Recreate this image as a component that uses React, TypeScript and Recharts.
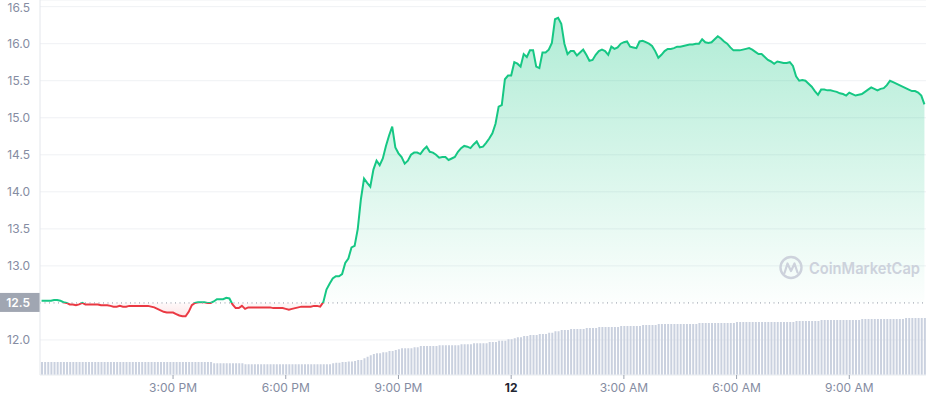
import React from "react";
import {
  ComposedChart,
  Area,
  Bar,
  XAxis,
  YAxis,
  CartesianGrid,
  ReferenceLine,
} from "recharts";

// price, one point every 5 minutes (11:30 AM -> 11:00 AM next day)
const PRICE = [
  12.53, 12.53, 12.53, 12.53, 12.54, 12.54, 12.53, 12.51, 12.5, 12.48,
  12.48, 12.47, 12.48, 12.5, 12.48, 12.48, 12.48, 12.48, 12.48, 12.47,
  12.47, 12.47, 12.46, 12.45, 12.45, 12.46, 12.45, 12.45, 12.46, 12.46,
  12.46, 12.46, 12.46, 12.46, 12.46, 12.45, 12.44, 12.42, 12.4, 12.38,
  12.37, 12.37, 12.37, 12.35, 12.33, 12.32, 12.32, 12.38, 12.47, 12.5,
  12.51, 12.51, 12.51, 12.5, 12.5, 12.52, 12.55, 12.55, 12.55, 12.57,
  12.56, 12.48, 12.43, 12.43, 12.46, 12.42, 12.44, 12.44, 12.44, 12.44,
  12.44, 12.44, 12.44, 12.44, 12.43, 12.43, 12.43, 12.43, 12.42, 12.41,
  12.42, 12.43, 12.44, 12.45, 12.45, 12.45, 12.45, 12.46, 12.46, 12.45,
  12.51, 12.68, 12.76, 12.83, 12.86, 12.86, 12.89, 13.04, 13.1, 13.25,
  13.27, 13.5, 13.9, 14.18, 14.12, 14.07, 14.3, 14.42, 14.36, 14.45,
  14.62, 14.76, 14.88, 14.6, 14.52, 14.47, 14.38, 14.42, 14.5, 14.53,
  14.53, 14.51, 14.57, 14.61, 14.54, 14.53, 14.5, 14.46, 14.47, 14.47,
  14.43, 14.45, 14.47, 14.54, 14.59, 14.62, 14.61, 14.59, 14.64, 14.68,
  14.6, 14.61, 14.66, 14.72, 14.79, 14.92, 15.15, 15.17, 15.52, 15.57,
  15.57, 15.75, 15.73, 15.69, 15.86, 15.82, 15.91, 15.91, 15.69, 15.67,
  15.88, 15.88, 15.92, 16.01, 16.33, 16.35, 16.27, 16.0, 15.86, 15.9,
  15.9, 15.84, 15.88, 15.92, 15.85, 15.77, 15.78, 15.85, 15.9, 15.92,
  15.9, 15.85, 15.96, 15.93, 15.95, 16.0, 16.02, 16.03, 15.96, 15.95,
  15.94, 16.03, 16.04, 16.02, 16.0, 15.97, 15.9, 15.81, 15.85, 15.9,
  15.93, 15.93, 15.94, 15.96, 15.96, 15.97, 15.98, 15.99, 15.99, 16.0,
  16.0, 16.06, 16.02, 16.01, 16.02, 16.06, 16.1, 16.07, 16.03, 16.0,
  15.95, 15.91, 15.91, 15.91, 15.92, 15.93, 15.94, 15.92, 15.89, 15.86,
  15.86, 15.82, 15.78, 15.76, 15.73, 15.76, 15.75, 15.74, 15.74, 15.75,
  15.7, 15.56, 15.5, 15.51, 15.5, 15.46, 15.42, 15.36, 15.31, 15.38,
  15.38, 15.37, 15.37, 15.36, 15.35, 15.33, 15.32, 15.3, 15.34, 15.32,
  15.3, 15.31, 15.32, 15.35, 15.38, 15.41, 15.39, 15.37, 15.39, 15.4,
  15.44, 15.5, 15.48, 15.46, 15.44, 15.42, 15.4, 15.38, 15.36, 15.36,
  15.34, 15.3, 15.18,
];

// 24h volume (millions), same 5 minute steps
const VOLUME = [
  52, 52, 52, 52, 52, 52, 52, 52, 52, 52,
  52, 52, 52, 52, 52, 52, 52, 52, 52, 52,
  52, 52, 52, 52, 52, 52, 52, 52, 52, 52,
  52, 52, 52, 52, 52, 52, 52, 52, 52, 52,
  52, 52, 52, 52, 52, 52, 52, 52, 52, 52,
  52, 52, 52, 52, 52, 47, 47, 47, 47, 47,
  47, 47, 47, 47, 47, 43, 43, 43, 43, 43,
  43, 43, 43, 43, 43, 43, 43, 43, 43, 43,
  43, 43, 43, 43, 43, 43, 43, 43, 43, 43,
  43, 43, 43, 47, 49, 49, 52, 52, 54, 54,
  56, 60, 60, 67, 73, 79, 84, 87, 87, 91,
  91, 96, 96, 100, 103, 107, 107, 107, 107, 111,
  111, 116, 116, 116, 116, 116, 116, 119, 119, 119,
  119, 119, 119, 119, 123, 123, 123, 123, 127, 127,
  127, 127, 127, 132, 132, 132, 137, 137, 137, 143,
  143, 147, 151, 151, 156, 156, 160, 160, 160, 164,
  164, 164, 169, 169, 175, 175, 180, 180, 180, 184,
  184, 184, 184, 184, 188, 188, 188, 188, 192, 192,
  192, 192, 192, 192, 192, 196, 196, 196, 196, 196,
  196, 196, 200, 200, 200, 200, 200, 204, 204, 204,
  204, 204, 204, 204, 204, 204, 204, 204, 204, 204,
  208, 208, 208, 208, 208, 208, 208, 208, 208, 208,
  208, 208, 212, 212, 212, 212, 212, 212, 212, 212,
  212, 212, 212, 212, 212, 212, 212, 212, 212, 212,
  212, 216, 216, 216, 216, 216, 216, 216, 216, 220,
  220, 220, 220, 220, 220, 220, 220, 220, 220, 220,
  220, 220, 224, 224, 224, 224, 224, 224, 224, 224,
  224, 224, 224, 224, 224, 224, 228, 228, 228, 228,
  228, 228, 228,
];

const OPEN_PRICE = 12.5;
const PRICE_TICKS = [12, 13, 13.5, 14, 14.5, 15, 15.5, 16, 16.5];
const TIME_TICKS = [42, 78, 114, 150, 186, 222, 258];
const TIME_LABELS = ["3:00 PM", "6:00 PM", "9:00 PM", "12", "3:00 AM", "6:00 AM", "9:00 AM"];

const GREEN = "#16c784";
const RED = "#ea3943";
const TEXT = "#858ca2";
const FONT = "Inter, sans-serif";

const data = PRICE.map((price, idx) => ({ idx, price, volume: VOLUME[idx] }));

const maxP = Math.max(...PRICE);
const minP = Math.min(...PRICE);
const split = (maxP - OPEN_PRICE) / (maxP - minP);

const TimeTick = ({ x, y, payload }: any) => {
  const label = TIME_LABELS[TIME_TICKS.indexOf(payload.value)];
  const bold = label === "12";
  return (
    <text
      x={x}
      y={y}
      dy="0.71em"
      textAnchor="middle"
      fontSize={12}
      fontFamily={FONT}
      fontWeight={bold ? 700 : 400}
      fill={bold ? "#222531" : TEXT}
    >
      {label}
    </text>
  );
};

const OpenLabel = (props: any) => {
  const { x, y } = props.viewBox;
  return (
    <g>
      <rect x={x - 40} y={y - 10} width={40} height={19} fill="#a0a6b2" />
      <text
        x={x - 10}
        y={y}
        dy="0.35em"
        textAnchor="end"
        fontSize={12}
        fontWeight={600}
        fontFamily={FONT}
        fill="#ffffff"
      >
        {OPEN_PRICE.toFixed(1)}
      </text>
    </g>
  );
};

export default function App() {
  return (
    <div style={{ position: "fixed", left: 0, top: 0, width: 929, height: 400, background: "#fff" }}>
      <ComposedChart
        width={929}
        height={400}
        data={data}
        margin={{ top: 0, right: 3, bottom: 0, left: 0 }}
      >
        <defs>
          <linearGradient id="priceStroke" x1="0" y1="0" x2="0" y2="1">
            <stop offset={split} stopColor={GREEN} />
            <stop offset={split} stopColor={RED} />
          </linearGradient>
          <linearGradient id="priceFill" x1="0" y1="0" x2="0" y2="1">
            <stop offset={0} stopColor={GREEN} stopOpacity={0.34} />
            <stop offset={split} stopColor={GREEN} stopOpacity={0.01} />
            <stop offset={split} stopColor={RED} stopOpacity={0.03} />
            <stop offset={1} stopColor={RED} stopOpacity={0.12} />
          </linearGradient>
        </defs>
        <CartesianGrid vertical={false} stroke="#eff1f4" />
        <XAxis
          dataKey="idx"
          ticks={TIME_TICKS}
          interval={0}
          height={25}
          tickSize={4}
          tickMargin={4}
          tick={<TimeTick />}
          axisLine={{ stroke: "#eff1f4" }}
          tickLine={{ stroke: "#9aa1ae" }}
        />
        <YAxis
          width={40}
          domain={[11.527, 16.59]}
          ticks={PRICE_TICKS}
          tickFormatter={(v: number) => v.toFixed(1)}
          tickLine={false}
          tickMargin={4}
          axisLine={{ stroke: "#e3e6eb" }}
          tick={{ fontSize: 12, fill: TEXT, fontFamily: FONT }}
        />
        <YAxis yAxisId="vol" hide domain={[0, 1500]} />
        <Bar
          yAxisId="vol"
          dataKey="volume"
          barSize={2}
          fill="#cad1df"
          isAnimationActive={false}
        />
        <Area
          type="linear"
          dataKey="price"
          baseValue={OPEN_PRICE}
          stroke="url(#priceStroke)"
          strokeWidth={2}
          fill="url(#priceFill)"
          fillOpacity={1}
          dot={false}
          activeDot={false}
          isAnimationActive={false}
        />
        <ReferenceLine
          y={OPEN_PRICE}
          stroke="#8f96a3"
          strokeDasharray="1 3.5"
          label={<OpenLabel />}
        />
      </ComposedChart>
      <svg
        width={929}
        height={400}
        style={{ position: "absolute", left: 0, top: 0, pointerEvents: "none" }}
      >
        <circle cx={791} cy={267.5} r={10.5} fill="none" stroke="#cdd2dc" strokeWidth={2.4} />
        <path
          d="M784.5 273 L787.5 263.5 L791 271 L794.5 263.5 L797.5 272.5"
          fill="none"
          stroke="#cdd2dc"
          strokeWidth={2.2}
          strokeLinejoin="round"
          strokeLinecap="round"
        />
        <text
          x={809}
          y={274}
          fontSize={16}
          fontWeight={600}
          fontFamily={FONT}
          fill="#cdd2dc"
          textLength={111}
          lengthAdjust="spacingAndGlyphs"
        >
          CoinMarketCap
        </text>
      </svg>
    </div>
  );
}
